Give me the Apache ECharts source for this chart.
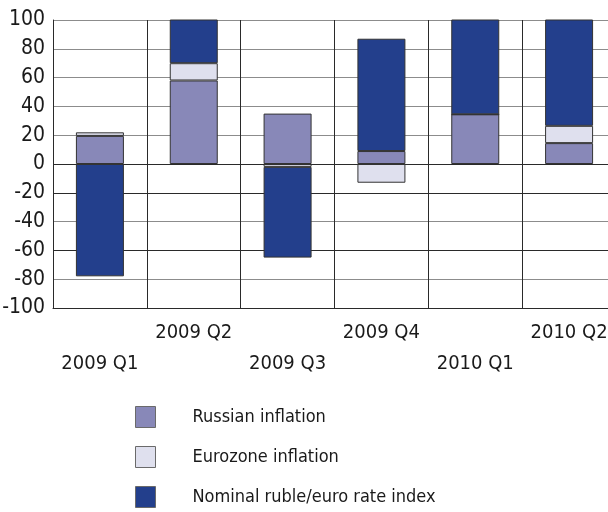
<!DOCTYPE html>
<html>
<head>
<meta charset="utf-8">
<script src="https://cdn.jsdelivr.net/npm/echarts@6/dist/echarts.min.js"></script>
<style>html,body{margin:0;padding:0;background:#fff}#c{width:608px;height:512px}</style>
</head>
<body>
<div id="c"></div>
<script>
const categories = ['2009 Q1', '2009 Q2', '2009 Q3', '2009 Q4', '2010 Q1', '2010 Q2'];
const russianInflation = [19.5, 58, 35, 9, 34.5, 14.5];
const eurozoneInflation = [2.5, 12, -2, -13, 0, 12];
const nominalRate = [-78, 33, -63, 78, 68, 75];
const seriesNames = ['Russian inflation', 'Eurozone inflation', 'Nominal ruble/euro rate index'];
const yTicks = { min: -100, max: 100, step: 20 };

const colors = ['#8888b8', '#dfe0ee', '#233f8c'];
const font = '"DejaVu Sans Condensed", "Liberation Sans Narrow", "Arial Narrow", sans-serif';
const gDark = '#2a2a2a', gLight = '#8c8c8c';

const chart = echarts.init(document.getElementById('c'), null, { renderer: 'canvas' });
const mk = (name, data, color) => ({
  name, type: 'bar', stack: 'total', data, barWidth: 48, clip: true,
  itemStyle: { color, borderColor: '#333', borderWidth: 1 },
  emphasis: { disabled: true }
});
chart.setOption({
  animation: false,
  backgroundColor: '#fff',
  grid: { left: 53, top: 20, bottom: 204, right: -8, containLabel: false, outerBoundsMode: 'none' },
  xAxis: {
    type: 'category', data: categories,
    axisLine: { onZero: false, lineStyle: { color: gDark, width: 1 } },
    axisTick: { show: false },
    splitLine: { show: true, lineStyle: { color: gDark, width: 1 } },
    axisLabel: {
      interval: 0, margin: 9, fontFamily: font, fontSize: 20, color: '#1a1a1a', lineHeight: 31,
      formatter: (v, i) => (i % 2 === 0 ? '\n' + v : v)
    }
  },
  yAxis: {
    type: 'value', min: yTicks.min, max: yTicks.max, interval: yTicks.step,
    axisLine: { show: true, lineStyle: { color: gDark, width: 1 } },
    axisTick: { show: false },
    splitLine: { show: true, lineStyle: { color: [gDark, gLight, gDark, gLight, gDark, gDark, gLight, gLight, gLight, gLight, gLight], width: 1 } },
    axisLabel: { margin: 8, fontFamily: font, fontSize: 21, color: '#1a1a1a' }
  },
  legend: {
    orient: 'vertical', left: 135, top: 406, height: 110, width: 400, padding: 0,
    itemWidth: 20, itemHeight: 21, itemGap: 18,
    icon: 'rect',
    data: seriesNames,
    itemStyle: { borderColor: '#6a6a6a', borderWidth: 1 },
    textStyle: { fontFamily: font, fontSize: 18, lineHeight: 21, color: '#1a1a1a', padding: [0, 0, 0, 32] },
    selectedMode: false
  },
  series: [
    mk(seriesNames[0], russianInflation, colors[0]),
    mk(seriesNames[1], eurozoneInflation, colors[1]),
    mk(seriesNames[2], nominalRate, colors[2])
  ]
});
</script>
</body>
</html>
